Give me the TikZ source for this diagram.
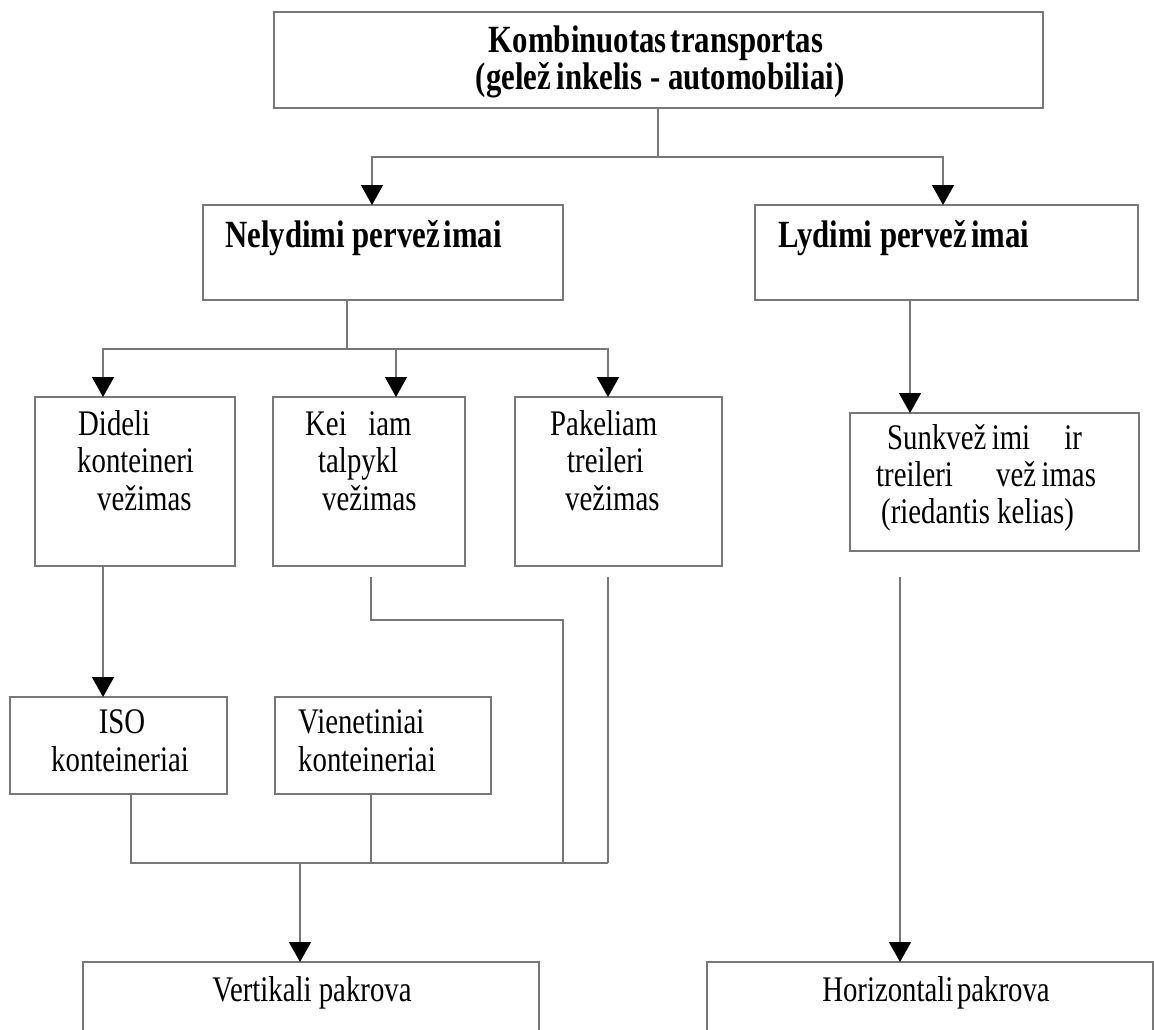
\documentclass[tikz,border=0pt]{standalone}
\usepackage{fontspec}
\setmainfont{Liberation Serif}[FakeStretch=0.8]
\usetikzlibrary{arrows.meta}
\definecolor{linegray}{RGB}{120,120,120}

\begin{document}
\begin{tikzpicture}[x=1pt, y=-1pt,
		box/.style={draw=linegray, line width=1.5pt, anchor=north west, inner sep=0pt, outer sep=0pt},
		conn/.style={draw=linegray, line width=1.5pt},
		arr/.style={conn, -{Triangle[width=22pt, length=20pt, color=black]}},
		txt/.style={inner sep=0pt, font=\fontsize{36}{37}\selectfont},
		bld/.style={inner sep=0pt, font=\fontsize{38.5}{37}\selectfont\bfseries}]
			%%%%% START %%%%%
			\useasboundingbox (0,0) rectangle (1154,1030);
			
			% boxes
			\node[box, minimum width=769pt, minimum height=96pt] (komb) at (274,12) {};
			\node[box, minimum width=360pt, minimum height=95pt] (nely) at (203,205) {};
			\node[box, minimum width=383pt, minimum height=95pt] (lydi) at (755,205) {};
			
			\node[box, minimum width=200pt, minimum height=169pt] (dide) at (35,397) {};
			\node[box, minimum width=192pt, minimum height=169pt] (keic) at (273,397) {};
			\node[box, minimum width=207pt, minimum height=169pt] (pake) at (515,397) {};
			\node[box, minimum width=289pt, minimum height=138pt] (sunk) at (850,413) {};
			
			\node[box, minimum width=217pt, minimum height=97pt] (iso) at (10,697) {};
			\node[box, minimum width=216pt, minimum height=97pt] (viene) at (275,697) {};
			
			\node[box, minimum width=456pt, minimum height=120pt] (vert) at (83,962) {};
			\node[box, minimum width=446pt, minimum height=120pt] (hori) at (707,962) {};
			
			% texts
			\node[bld, anchor=base] (kombA) at (656,53) {Kombinuotas\hspace{0.1em}transportas};
			\node[bld, anchor=base] (kombB) at (660,90) {(gelež\hspace{0.15em}inkelis - automobiliai)};
			\node[bld, anchor=base west] (nelyA) at (225,247) {Nelydimi pervež\hspace{0.1em}imai};
			\node[bld, anchor=base west] (lydiA) at (778,247) {Lydimi pervež\hspace{0.1em}imai};
			
			\node[txt, anchor=base west] (dideA) at (78,435) {Dideli};
			\node[txt, anchor=base west] (dideB) at (77,472) {konteineri};
			\node[txt, anchor=base west] (dideC) at (97,510) {vežimas};
			\node[txt, anchor=base west] (keicA) at (305,435) {Kei\hspace{0.6em}iam};
			\node[txt, anchor=base west] (keicB) at (318,472) {talpykl};
			\node[txt, anchor=base west] (keicC) at (322,510) {vežimas};
			\node[txt, anchor=base west] (pakeA) at (550,435) {Pakeliam};
			\node[txt, anchor=base west] (pakeB) at (567,472) {treileri};
			\node[txt, anchor=base west] (pakeC) at (565,510) {vežimas};
			
			\node[txt, anchor=base west] (sunkA) at (887,449) {Sunkvež\hspace{0.15em}imi\hspace{0.95em}ir};
			\node[txt, anchor=base west] (sunkB) at (876,486) {treileri\hspace{1.2em}vež\hspace{0.15em}imas};
			\node[txt, anchor=base west] (sunkC) at (881,523) {(riedantis kelias)};
			
			\node[txt, anchor=base] (isoA) at (122,733) {ISO};
			\node[txt, anchor=base] (isoB) at (120,771) {konteineriai};
			\node[txt, anchor=base west] (vieneA) at (298,733) {Vienetiniai};
			\node[txt, anchor=base west] (vieneB) at (298,771) {konteineriai};
			
			\node[txt, anchor=base] (vertA) at (312,1001) {Vertikali pakrova};
			\node[txt, anchor=base] (horiA) at (936,1001) {Horizontali\hspace{0.1em}pakrova};
			
			% junction points and loose line ends
			\coordinate (j1) at (658,157);
			\coordinate (j2) at (347,349);
			\coordinate (j3) at (371,620);
			\coordinate (j4) at (300,863);
			\coordinate (keicout) at (371,577);
			\coordinate (pakeout) at (608,577);
			\coordinate (sunkout) at (900,577);
			
			% top level
			\draw[conn] (komb.south -| j1) -- (j1);
			\draw[arr] (j1) -| (nely.north west -| 372,0);
			\draw[arr] (j1) -| (lydi.north west -| 943,0);
			
			% second level
			\draw[conn] (nely.south -| j2) -- (j2);
			\draw[arr] (j2) -| (dide.north -| 103,0);
			\draw[arr] (j2) -| (keic.north -| 396,0);
			\draw[arr] (j2) -| (pake.north -| 608,0);
			\draw[arr] (lydi.south -| 910,0) -- (sunk.north -| 910,0);
			
			% third level
			\draw[arr] (dide.south -| 103,0) -- (iso.north -| 103,0);
			\draw[conn] (keicout) -- (j3) -| (j4 -| 563,0);
			\draw[conn] (pakeout) -- (j4 -| pakeout);
			\draw[conn] (iso.south -| 131,0) -- (j4 -| 131,0) -- (j4 -| pakeout);
			\draw[conn] (viene.south -| 371,0) -- (j4 -| 371,0);
			
			% bottom
			\draw[arr] (j4) -- (vert.north -| j4);
			\draw[arr] (sunkout) -- (hori.north -| sunkout);
			
			%%%%% END %%%%%
		\end{tikzpicture}
\end{document}
